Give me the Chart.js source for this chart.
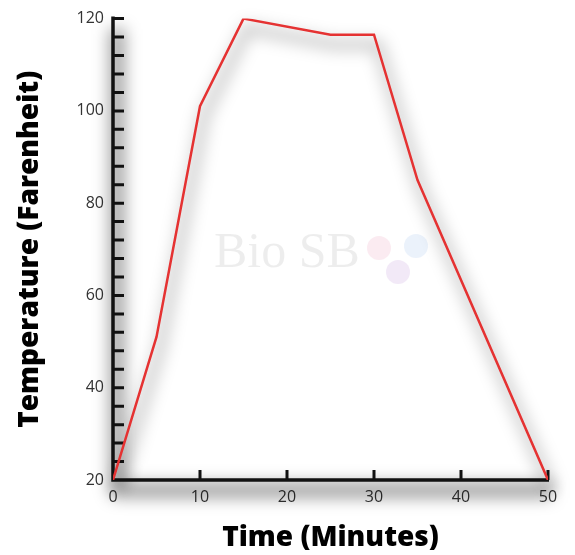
<!DOCTYPE html>
<html>
<head>
<meta charset="utf-8">
<script src="https://cdn.jsdelivr.net/npm/chart.js@4.4.1/dist/chart.umd.min.js"></script>
<style>
  html, body { margin: 0; padding: 0; background: #ffffff; }
  #wrap { width: 575px; height: 555px; }
</style>
</head>
<body>
<div id="wrap"><canvas id="chart" width="575" height="555"></canvas></div>
<script>
// Heating profile: minutes vs temperature
var timeMinutes = [0, 5, 10, 15, 25, 30, 35, 50];
var temperatureF = [20, 51, 101, 120, 116.5, 116.5, 85, 20];
var yMajorTicks = [20, 40, 60, 80, 100, 120];
var xTickLabels = [0, 10, 20, 30, 40, 50];

var LINE_RED = '#e53232';
var AXIS_BLACK = '#111111';
var LABEL_GREY = '#333333';

/**
 * Faint company mark behind the plot.
 */
var watermarkPlugin = {
  id: 'watermark',
  beforeDatasetsDraw: function (chart) {
    var ctx = chart.ctx;
    ctx.save();
    ctx.font = '50px "Liberation Serif", serif';
    ctx.fillStyle = 'rgba(0, 0, 0, 0.07)';
    ctx.textBaseline = 'alphabetic';
    ctx.fillText('Bio SB', 214, 267);
    var dots = [
      [379, 248, 'rgba(230, 120, 160, 0.15)'],
      [416, 246, 'rgba(120, 170, 230, 0.15)'],
      [398, 272, 'rgba(170, 110, 200, 0.15)'],
    ];
    dots.forEach(function (d) {
      ctx.beginPath();
      ctx.arc(d[0], d[1], 12, 0, Math.PI * 2);
      ctx.fillStyle = d[2];
      ctx.fill();
    });
    ctx.restore();
  },
};

/**
 * Soft drop shadow under the axes and the curve: a wide grey stroke, blurred.
 */
var shadowPlugin = {
  id: 'softShadow',
  beforeDatasetsDraw: function (chart) {
    var ctx = chart.ctx;
    var xs = chart.scales.x;
    var ys = chart.scales.y;
    var x0 = xs.getPixelForValue(0);
    var y0 = ys.getPixelForValue(20);
    var pts = chart.getDatasetMeta(0).data;

    ctx.save();
    ctx.filter = 'blur(8px)';
    ctx.translate(4, 10);
    ctx.strokeStyle = 'rgba(0, 0, 0, 0.36)';
    ctx.lineJoin = 'round';
    ctx.lineWidth = 16;

    ctx.beginPath();
    ctx.moveTo(x0, ys.getPixelForValue(120));
    ctx.lineTo(x0, y0);
    ctx.lineTo(xs.getPixelForValue(50), y0);
    ctx.stroke();

    ctx.lineWidth = 10;
    ctx.strokeStyle = 'rgba(0, 0, 0, 0.22)';
    ctx.beginPath();
    pts.forEach(function (p, i) {
      if (i === 0) ctx.moveTo(p.x, p.y);
      else ctx.lineTo(p.x, p.y);
    });
    ctx.stroke();
    ctx.restore();
  },
};

/**
 * Axis lines with inward tick marks, drawn from the chart's own scales.
 */
var axesPlugin = {
  id: 'inwardAxes',
  beforeDatasetsDraw: function (chart) {
    var ctx = chart.ctx;
    var xs = chart.scales.x;
    var ys = chart.scales.y;
    var x0 = xs.getPixelForValue(0);
    var y0 = ys.getPixelForValue(20);

    ctx.save();
    ctx.strokeStyle = AXIS_BLACK;
    ctx.lineCap = 'butt';

    // axis lines
    ctx.lineWidth = 3.5;
    ctx.beginPath();
    ctx.moveTo(x0, ys.getPixelForValue(120) - 2);
    ctx.lineTo(x0, y0);
    ctx.lineTo(xs.getPixelForValue(50) + 1, y0);
    ctx.stroke();

    // tick marks
    ctx.lineWidth = 3;
    ctx.beginPath();
    ys.ticks.forEach(function (t) {
      if (t.value === 20) return;
      var py = ys.getPixelForValue(t.value);
      ctx.moveTo(x0, py);
      ctx.lineTo(x0 + 11, py);
    });
    xs.ticks.forEach(function (t) {
      if (t.value === 0) return;
      var px = xs.getPixelForValue(t.value);
      ctx.moveTo(px, y0);
      ctx.lineTo(px, y0 - 10);
    });
    ctx.stroke();
    ctx.restore();
  },
};

var points = timeMinutes.map(function (t, i) {
  return { x: t, y: temperatureF[i] };
});

new Chart(document.getElementById('chart'), {
  type: 'line',
  data: {
    datasets: [{
      data: points,
      borderColor: LINE_RED,
      borderWidth: 2.5,
      pointRadius: 0,
      tension: 0,
      fill: false,
    }],
  },
  options: {
    responsive: false,
    animation: false,
    layout: { padding: { left: 13, top: 17, right: 27, bottom: 0 } },
    plugins: {
      legend: { display: false },
      tooltip: { enabled: false },
    },
    scales: {
      x: {
        type: 'linear',
        min: 0,
        max: 50,
        grid: { display: false, drawTicks: false },
        border: { display: false },
        afterFit: function (scale) { scale.height = 75; },
        ticks: {
          stepSize: 10,
          padding: 8,
          color: LABEL_GREY,
          font: { family: '"Open Sans"', size: 16 },
          callback: function (v) {
            return xTickLabels.indexOf(v) >= 0 ? String(v) : '';
          },
        },
        title: {
          display: true,
          text: 'Time (Minutes)',
          color: '#000000',
          font: { family: '"Open Sans"', size: 28, weight: '800' },
          padding: { top: 0, bottom: 0 },
        },
      },
      y: {
        min: 20,
        max: 120,
        grid: { display: false, drawTicks: false },
        border: { display: false },
        afterFit: function (scale) { scale.width = 100; },
        ticks: {
          stepSize: 4,
          autoSkip: false,
          padding: 9,
          color: LABEL_GREY,
          font: { family: '"Open Sans"', size: 16 },
          callback: function (v) {
            return yMajorTicks.indexOf(v) >= 0 ? String(v) : '';
          },
        },
        title: {
          display: true,
          text: 'Temperature (Farenheit)',
          color: '#000000',
          font: { family: '"Open Sans"', size: 28, weight: '800' },
          padding: { top: 0, bottom: 0 },
        },
      },
    },
  },
  plugins: [watermarkPlugin, shadowPlugin, axesPlugin],
});
</script>
</body>
</html>
